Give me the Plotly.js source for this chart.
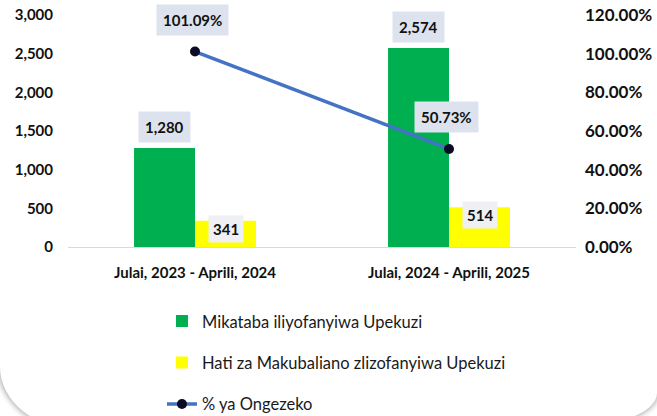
<!DOCTYPE html>
<html>
<head>
<meta charset="utf-8">
<script src="https://cdn.plot.ly/plotly-3.0.1.min.js"></script>
<style>
html,body{margin:0;padding:0;background:#fff;overflow:hidden;}
#card{position:absolute;left:0;top:0;width:657px;height:430px;background:#fff;
  border-bottom-left-radius:80px 63px;border-bottom-right-radius:100px 37px;
  box-shadow:0 0 5px 2px rgba(0,0,0,0.28);}
#chart{position:absolute;left:0;top:0;width:657px;height:416px;}
</style>
</head>
<body>
<div id="card"></div>
<div id="chart"></div>
<script>
// ---- data ----
var categories = ["Julai, 2023 - Aprili, 2024", "Julai, 2024 - Aprili, 2025"];
var mikatabaValues = [1280, 2574];
var hatiValues = [341, 514];
var ongezekoValues = [1.0109, 0.5073];
var seriesNames = ["Mikataba iliyofanyiwa Upekuzi", "Hati za Makubaliano zlizofanyiwa Upekuzi", "% ya Ongezeko"];
var leftTickVals = [0, 500, 1000, 1500, 2000, 2500, 3000];
var rightTickVals = [0, 0.2, 0.4, 0.6, 0.8, 1.0, 1.2];

var FONT = "Lato, 'Open Sans', sans-serif";
var labelBg = "#dde3ee";

var traces = [
  {type: "bar", name: seriesNames[0], x: categories, y: mikatabaValues,
   marker: {color: "#00b050"}, legendgroup: "a", hoverinfo: "skip"},
  {type: "bar", name: seriesNames[1], x: categories, y: hatiValues,
   marker: {color: "#ffff00"}, legendgroup: "b", hoverinfo: "skip"},
  {type: "scatter", mode: "lines+markers", name: seriesNames[2], x: categories, y: ongezekoValues,
   yaxis: "y2", line: {color: "#4472c4", width: 3.5},
   marker: {color: "#0b0b25", size: 10}, legendgroup: "c", hoverinfo: "skip"}
];

var annotations = [];
function fmtNum(v){ return v.toLocaleString("en-US"); }
var annFont = {family: FONT, size: 15, color: "#111", weight: "bold"};
categories.forEach(function(c, i){
  annotations.push({x: c, y: mikatabaValues[i], xref: "x", yref: "y", xshift: -30.5,
    yanchor: "bottom", yshift: 5, text: fmtNum(mikatabaValues[i]), showarrow: false,
    bgcolor: labelBg, borderpad: 6, font: annFont});
  annotations.push({x: c, y: hatiValues[i], xref: "x", yref: "y", xshift: 30.5,
    yanchor: "middle", yshift: -8, text: fmtNum(hatiValues[i]), showarrow: false,
    bgcolor: "#eef0f3", borderpad: 4, font: annFont});
  annotations.push({x: c, y: ongezekoValues[i], xref: "x", yref: "y2", xshift: -3,
    yanchor: "bottom", yshift: 16, text: (ongezekoValues[i]*100).toFixed(2) + "%", showarrow: false,
    bgcolor: labelBg, borderpad: 6, font: annFont});
});

var layout = {
  width: 657, height: 416,
  margin: {l: 68, r: 81, t: 15, b: 169, autoexpand: false},
  paper_bgcolor: "rgba(0,0,0,0)", plot_bgcolor: "rgba(0,0,0,0)",
  barmode: "group", bargap: 0.52, bargroupgap: 0,
  showlegend: true,
  legend: {orientation: "v", x: 0.185, xanchor: "left", y: -0.245, yanchor: "top",
    tracegroupgap: 17, font: {family: FONT, size: 16.5, color: "#1a1a1a"},
    bgcolor: "rgba(0,0,0,0)"},
  xaxis: {type: "category", showgrid: false, zeroline: false, showline: true,
    linecolor: "#d9d9d9", linewidth: 1, ticks: "", ticklabelstandoff: 12,
    tickfont: {family: FONT, size: 15, color: "#111", weight: "bold"}},
  yaxis: {range: [0, 3000], tickvals: leftTickVals, tickformat: ",d", showgrid: false,
    zeroline: false, showline: false, ticks: "", ticklabelstandoff: 14,
    tickfont: {family: FONT, size: 15, color: "#111", weight: "bold"}},
  yaxis2: {range: [0, 1.2], tickvals: rightTickVals, tickformat: ".2%", overlaying: "y",
    side: "right", showgrid: false, zeroline: false, showline: false, ticks: "",
    ticklabelstandoff: 8,
    tickfont: {family: FONT, size: 17, color: "#111", weight: "bold"}},
  annotations: annotations
};

Plotly.newPlot("chart", traces, layout, {displayModeBar: false, staticPlot: true});
</script>
</body>
</html>
